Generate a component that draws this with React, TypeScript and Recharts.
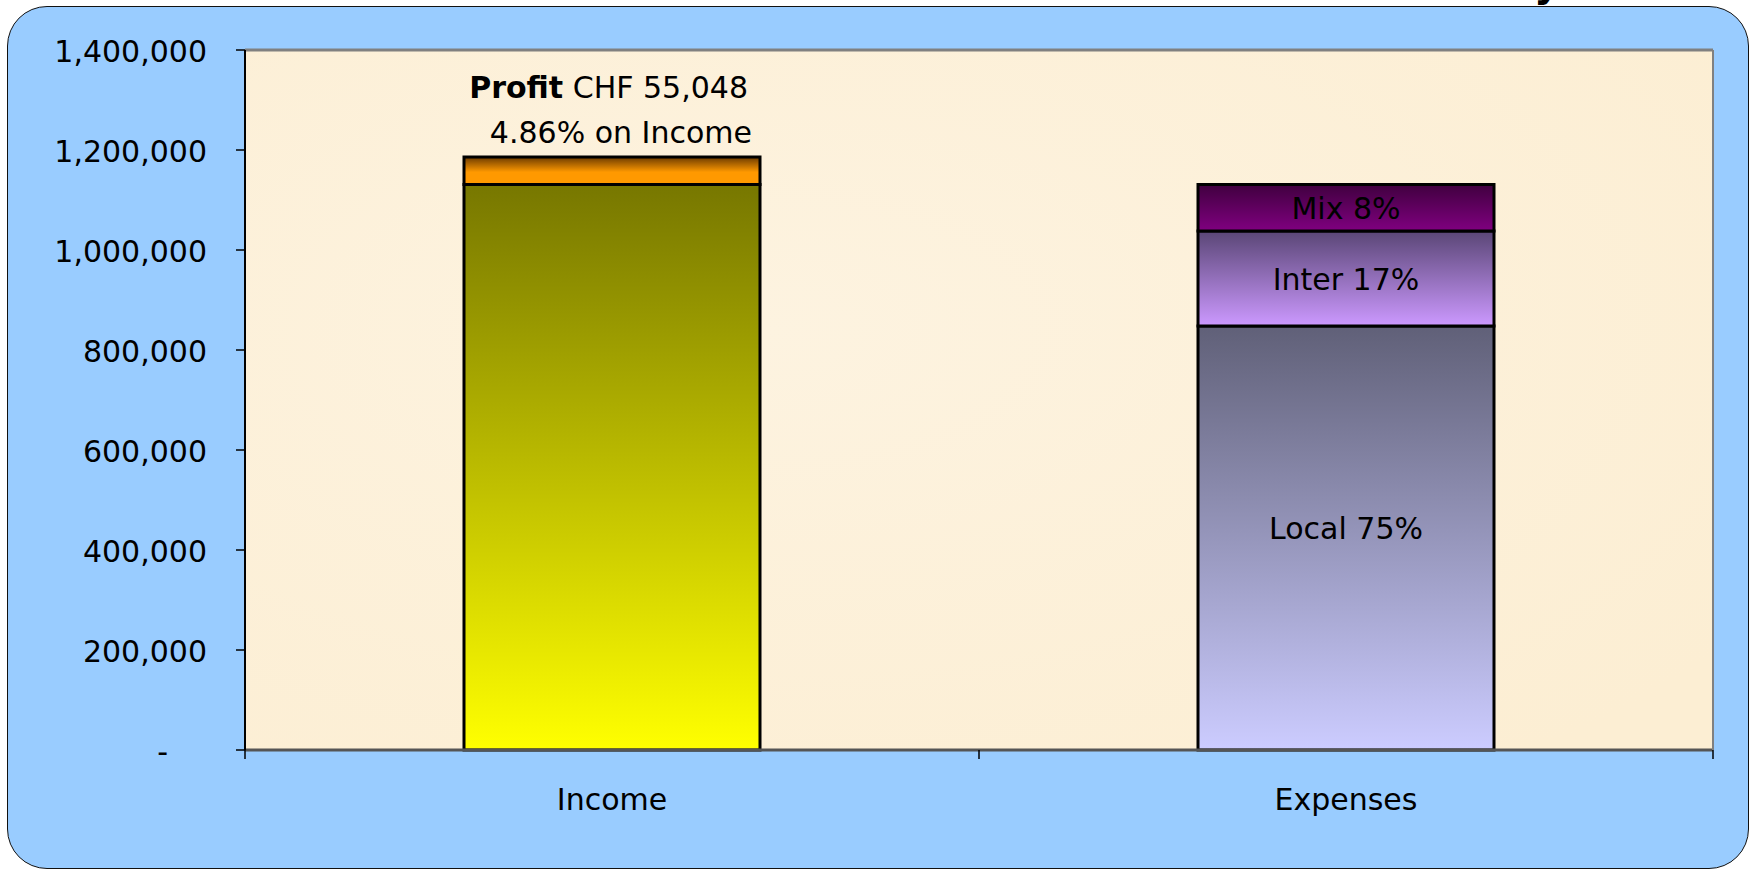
import React from "react";
import { BarChart, Bar, XAxis, YAxis, CartesianGrid, LabelList, ReferenceLine } from "recharts";

const categories = ["Income", "Expenses"];
const incomeBase: (number | null)[] = [1131000, null];
const profit: (number | null)[] = [55048, null];
const local: (number | null)[] = [null, 848000];
const inter: (number | null)[] = [null, 190000];
const mix: (number | null)[] = [null, 93000];
const yTicks = [0, 200000, 400000, 600000, 800000, 1000000, 1200000, 1400000];
const localLabel = "Local 75%";
const interLabel = "Inter 17%";
const mixLabel = "Mix 8%";
const profitTitle = "Profit";
const profitAmount = " CHF 55,048";
const profitShare = "4.86% on Income";

const data = categories.map((name, i) => ({
  name,
  base: incomeBase[i],
  profit: profit[i],
  local: local[i],
  inter: inter[i],
  mix: mix[i],
}));

const FONT = "'DejaVu Sans', Verdana, sans-serif";
const FS = 30;

const YTick = (props: any) => {
  const { x, y, payload } = props;
  const v = payload.value as number;
  return (
    <g>
      <line x1={x - 9} x2={x} y1={y} y2={y} stroke="#000" strokeWidth={1.5} />
      <text
        x={v === 0 ? x - 77 : x - 38}
        y={y + 12}
        textAnchor="end"
        fontFamily={FONT}
        fontSize={FS}
        fill="#000"
      >
        {v === 0 ? "-" : v.toLocaleString("en-US")}
      </text>
    </g>
  );
};

const XTick = (props: any) => {
  const { x, y, payload, index, visibleTicksCount } = props;
  const half = payload && typeof payload.offset === "number" && payload.offset > 0 ? payload.offset : 367;
  const last = index === (visibleTicksCount ?? categories.length) - 1;
  return (
    <g>
      <line x1={x - half} x2={x - half} y1={y} y2={y + 9} stroke="#000" strokeWidth={1.5} />
      {last && <line x1={x + half} x2={x + half} y1={y} y2={y + 9} stroke="#000" strokeWidth={1.5} />}
      <text x={x} y={y + 60} textAnchor="middle" fontFamily={FONT} fontSize={FS} fill="#000">
        {payload.value}
      </text>
    </g>
  );
};

const centerLabel = (text: string, dy = 0) => (props: any) => {
  const { x, y, width, height, value } = props;
  if (value === null || value === undefined || !height) return null;
  return (
    <text
      x={x + width / 2}
      y={y + height / 2 + 11 + dy}
      textAnchor="middle"
      fontFamily={FONT}
      fontSize={FS}
      fill="#000"
    >
      {text}
    </text>
  );
};

const profitLabel = (props: any) => {
  const { x, y, width, value } = props;
  if (value === null || value === undefined) return null;
  return (
    <g>
      <text x={x + width - 12} y={y - 59} textAnchor="end" fontFamily={FONT} fontSize={FS} fill="#000">
        <tspan fontWeight="bold">{profitTitle}</tspan>
        <tspan>{profitAmount}</tspan>
      </text>
      <text x={x + width - 8} y={y - 14} textAnchor="end" fontFamily={FONT} fontSize={FS} fill="#000">
        {profitShare}
      </text>
    </g>
  );
};

export default function App() {
  return (
    <div style={{ position: "absolute", left: 0, top: 0, width: 1755, height: 870, background: "#fff", overflow: "hidden" }}>
      <div
        style={{
          position: "absolute",
          left: 7,
          top: 6,
          width: 1742,
          height: 863,
          boxSizing: "border-box",
          border: "1.5px solid #111",
          borderRadius: 40,
          background: "#99CCFF",
        }}
      />
      <div
        style={{
          position: "absolute",
          left: 1534,
          top: -38,
          fontFamily: FONT,
          fontWeight: "bold",
          fontSize: 40,
          lineHeight: "40px",
          color: "#000",
        }}
      >
        y
      </div>
      <div style={{ position: "absolute", left: 0, top: 0 }}>
        <BarChart
          width={1755}
          height={870}
          data={data}
          margin={{ top: 50, right: 0, bottom: 60, left: 0 }}
          barSize={296}
        >
          <defs>
            <linearGradient id="gBase" x1="0" y1="0" x2="0" y2="1">
              <stop offset="0%" stopColor="#777700" />
              <stop offset="100%" stopColor="#FFFF00" />
            </linearGradient>
            <linearGradient id="gProfit" x1="0" y1="0" x2="0" y2="1">
              <stop offset="0%" stopColor="#6B3A00" />
              <stop offset="55%" stopColor="#FF9900" />
              <stop offset="100%" stopColor="#FF9900" />
            </linearGradient>
            <linearGradient id="gLocal" x1="0" y1="0" x2="0" y2="1">
              <stop offset="0%" stopColor="#606078" />
              <stop offset="100%" stopColor="#CCCCFF" />
            </linearGradient>
            <linearGradient id="gInter" x1="0" y1="0" x2="0" y2="1">
              <stop offset="0%" stopColor="#5A4676" />
              <stop offset="100%" stopColor="#CC99FF" />
            </linearGradient>
            <linearGradient id="gMix" x1="0" y1="0" x2="0" y2="1">
              <stop offset="0%" stopColor="#40003F" />
              <stop offset="100%" stopColor="#800080" />
            </linearGradient>
            <radialGradient id="gPlot" cx="0.35" cy="0.4" r="0.8">
              <stop offset="0%" stopColor="#FDF3E0" />
              <stop offset="100%" stopColor="#FCEED3" />
            </radialGradient>
          </defs>
          <CartesianGrid horizontal={false} vertical={false} fill="url(#gPlot)" />
          <XAxis
            dataKey="name"
            height={60}
            tickLine={false}
            tickSize={0}
            tickMargin={0}
            axisLine={{ stroke: "#555", strokeWidth: 3 }}
            tick={<XTick />}
            interval={0}
          />
          <YAxis
            width={245}
            domain={[0, 1400000]}
            ticks={yTicks}
            tickLine={false}
            tickSize={0}
            tickMargin={0}
            axisLine={{ stroke: "#000", strokeWidth: 2 }}
            tick={<YTick />}
            interval={0}
          />
          <YAxis
            yAxisId="r"
            orientation="right"
            width={42}
            domain={[0, 1400000]}
            tick={false}
            tickLine={false}
            axisLine={{ stroke: "#808080", strokeWidth: 2 }}
          />
          <ReferenceLine y={1400000} stroke="#808080" strokeWidth={3} />
          <Bar dataKey="base" stackId="a" fill="url(#gBase)" stroke="#000" strokeWidth={3} isAnimationActive={false} />
          <Bar dataKey="profit" stackId="a" fill="url(#gProfit)" stroke="#000" strokeWidth={3} isAnimationActive={false}>
            <LabelList dataKey="profit" content={profitLabel} />
          </Bar>
          <Bar dataKey="local" stackId="a" fill="url(#gLocal)" stroke="#000" strokeWidth={3} isAnimationActive={false}>
            <LabelList dataKey="local" content={centerLabel(localLabel, -10)} />
          </Bar>
          <Bar dataKey="inter" stackId="a" fill="url(#gInter)" stroke="#000" strokeWidth={3} isAnimationActive={false}>
            <LabelList dataKey="inter" content={centerLabel(interLabel)} />
          </Bar>
          <Bar dataKey="mix" stackId="a" fill="url(#gMix)" stroke="#000" strokeWidth={3} isAnimationActive={false}>
            <LabelList dataKey="mix" content={centerLabel(mixLabel)} />
          </Bar>
        </BarChart>
      </div>
    </div>
  );
}
